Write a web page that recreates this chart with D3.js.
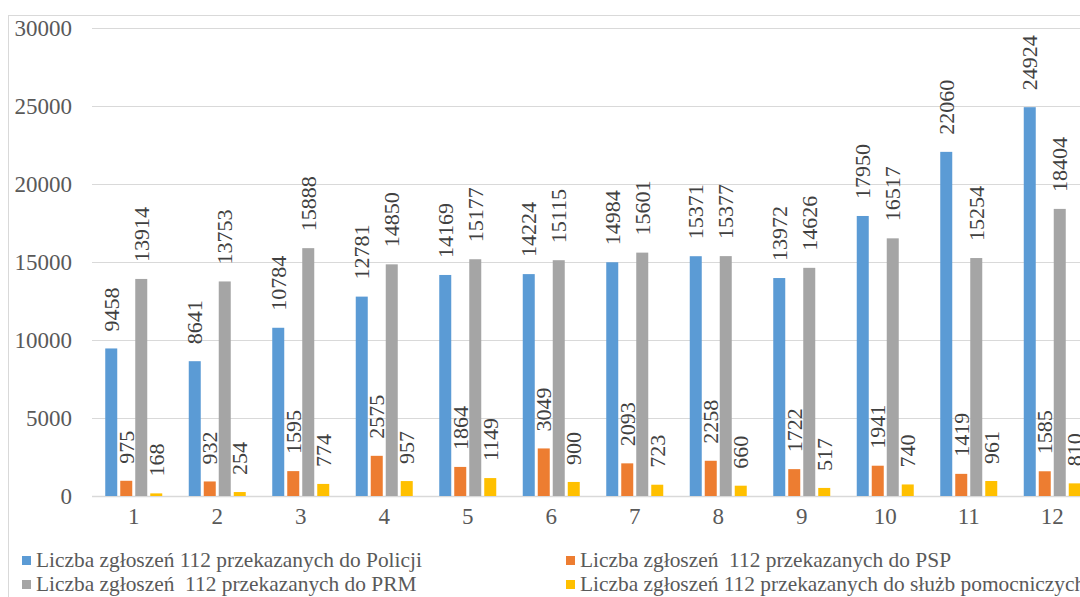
<!DOCTYPE html>
<html lang="pl">
<head>
<meta charset="UTF-8">
<title>Zgłoszenia 112</title>
<style>
  html, body { margin: 0; padding: 0; background: #fff; }
  svg { display: block; }
  svg text { font-family: "Liberation Serif", "DejaVu Serif", serif; }
</style>
</head>
<body>
<div id="wykres"></div>
<script src="https://d3js.org/d3.v7.min.js"></script>
<script>

// dane
let miesiace = ['1', '2', '3', '4', '5', '6', '7', '8', '9', '10', '11', '12'];

let policja = [9458, 8641, 10784, 12781, 14169, 14224, 14984, 15371, 13972, 17950, 22060, 24924];
let psp     = [975, 932, 1595, 2575, 1864, 3049, 2093, 2258, 1722, 1941, 1419, 1585];
let prm     = [13914, 13753, 15888, 14850, 15177, 15115, 15601, 15377, 14626, 16517, 15254, 18404];
let pomocnicze = [168, 254, 774, 957, 1149, 900, 723, 660, 517, 740, 961, 810];

let nazwy = [
    'Liczba zgłoszeń 112 przekazanych do Policji',
    'Liczba zgłoszeń  112 przekazanych do PSP',
    'Liczba zgłoszeń  112 przekazanych do PRM',
    'Liczba zgłoszeń 112 przekazanych do służb pomocniczych'
];

let yTicks = [0, 5000, 10000, 15000, 20000, 25000, 30000];

let kolory = ['#5b9bd5', '#ed7d31', '#a5a5a5', '#ffc000'];

let serie = [policja, psp, prm, pomocnicze];

let width = 1080, height = 597;
let serif = '"Liberation Serif", "DejaVu Serif", serif';

let svg = d3.select('#wykres')
            .append('svg')
            .attr('width', width)
            .attr('height', height);

// ramka wykresu
svg.append('rect')
   .attr('x', 8.5)
   .attr('y', 15.5)
   .attr('width', 2000)
   .attr('height', 2000)
   .attr('fill', 'none')
   .attr('stroke', '#d9d9d9');

let x = d3.scaleBand()
          .domain(miesiace)
          .range([92, 92 + 83.5 * 12])
          .padding(0);

let x1 = d3.scaleBand()
           .domain(d3.range(4))
           .range([13.25, 70.25])
           .paddingInner(0.2);

let y = d3.scaleLinear()
          .domain([0, 30000])
          .range([496, 28]);

// siatka
svg.append('g')
   .selectAll('line')
   .data(yTicks)
   .enter()
   .append('line')
   .attr('x1', 92)
   .attr('x2', width)
   .attr('y1', d => Math.round(y(d)) + 0.5)
   .attr('y2', d => Math.round(y(d)) + 0.5)
   .attr('stroke', '#d9d9d9')
   .attr('stroke-width', d => d === 0 ? 1.5 : 1);

// oś Y
let axeY = d3.axisLeft(y)
             .tickValues(yTicks)
             .tickFormat(d3.format('d'))
             .tickSize(0)
             .tickPadding(0);

svg.append('g')
   .attr('transform', 'translate(72, 0)')
   .call(axeY)
   .attr('font-family', serif)
   .attr('font-size', 23)
   .call(g => g.select('.domain').remove())
   .selectAll('text')
   .attr('fill', '#595959');

// oś X
let axeX = d3.axisBottom(x).tickSize(0).tickPadding(0);

svg.append('g')
   .attr('transform', 'translate(0, 496)')
   .call(axeX)
   .attr('font-family', serif)
   .attr('font-size', 23)
   .call(g => g.select('.domain').remove())
   .selectAll('text')
   .attr('fill', '#595959')
   .attr('dy', '1.2em');

// słupki
let grupy = svg.append('g')
   .selectAll('g')
   .data(miesiace)
   .enter()
   .append('g')
   .attr('transform', d => `translate(${x(d)}, 0)`);

grupy.selectAll('rect')
     .data((d, i) => serie.map((s, k) => ({ k: k, v: s[i] })))
     .enter()
     .append('rect')
     .attr('x', d => x1(d.k))
     .attr('width', x1.bandwidth())
     .attr('y', d => y(d.v))
     .attr('height', d => y(0) - y(d.v))
     .attr('fill', d => kolory[d.k]);

// etykiety
grupy.selectAll('text')
     .data((d, i) => serie.map((s, k) => ({ k: k, v: s[i] })))
     .enter()
     .append('text')
     .attr('transform', d => `translate(${x1(d.k) + x1.bandwidth() / 2}, ${y(d.v) - 17}) rotate(-90)`)
     .attr('dy', '0.35em')
     .attr('text-anchor', 'start')
     .attr('fill', '#404040')
     .attr('font-family', serif)
     .attr('font-size', 22)
     .text(d => d.v);

// legenda
let legendaPos = [
    { x: 22, y: 556 },
    { x: 566, y: 556 },
    { x: 22, y: 580 },
    { x: 566, y: 580 }
];

let legenda = svg.append('g')
   .selectAll('g')
   .data(nazwy)
   .enter()
   .append('g')
   .attr('transform', (d, i) => `translate(${legendaPos[i].x}, ${legendaPos[i].y})`);

legenda.append('rect')
       .attr('width', 9)
       .attr('height', 9)
       .attr('fill', (d, i) => kolory[i]);

legenda.append('text')
       .attr('x', 14)
       .attr('y', 11)
       .attr('fill', '#595959')
       .attr('font-family', serif)
       .attr('font-size', 21.4)
       .style('white-space', 'pre')
       .text(d => d);

</script>
</body>
</html>
